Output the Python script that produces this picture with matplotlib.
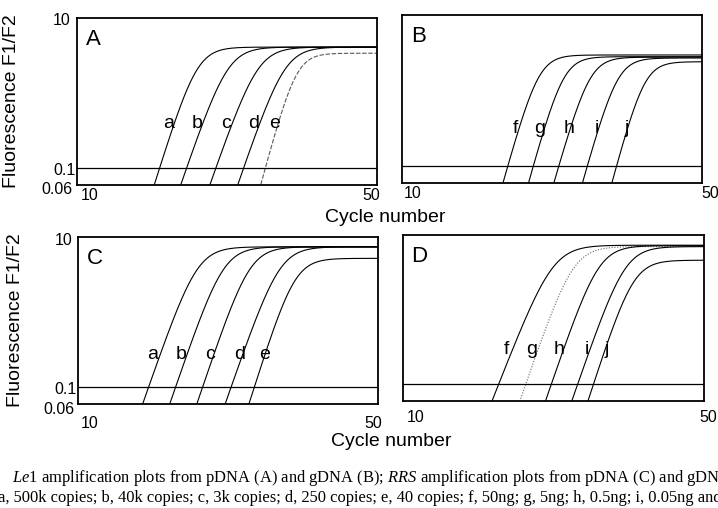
import numpy as np
import matplotlib
matplotlib.use("Agg")
import matplotlib.pyplot as plt
import matplotlib.transforms as mtransforms

plt.rcParams['font.family'] = ['Liberation Sans', 'DejaVu Sans']
plt.rcParams['mathtext.fontset'] = 'custom'
plt.rcParams['mathtext.it'] = 'Liberation Serif:italic'
plt.rcParams['mathtext.rm'] = 'Liberation Serif'

# amplification curves:
# ct = cycle where the curve crosses the 0.1 threshold,
# mid = cycle at half of the plateau, top = plateau value
A_names = ['a', 'b', 'c', 'd', 'e']
A_ct = [21.0, 24.6, 28.5, 32.2, 35.1]
A_mid = [26.0, 30.1, 34.1, 37.7, 39.2]
A_top = [4.1, 4.1, 4.1, 4.1, 3.4]
A_lab_x = [22.2, 26.0, 29.9, 33.5, 36.4]

B_names = ['f', 'g', 'h', 'i', 'j']
B_ct = [24.1, 27.5, 30.9, 34.7, 38.6]
B_mid = [28.2, 31.5, 35.0, 38.7, 42.3]
B_top = [2.96, 2.81, 2.77, 2.70, 2.41]
B_lab_x = [25.1, 28.4, 32.3, 36.0, 39.9]

C_names = ['a', 'b', 'c', 'd', 'e']
C_ct = [19.4, 23.0, 26.6, 30.4, 33.5]
C_mid = [25.9, 29.4, 32.9, 36.9, 38.9]
C_top = [7.4, 7.4, 7.4, 7.4, 5.2]
C_lab_x = [20.0, 23.8, 27.6, 31.6, 34.9]

D_names = ['f', 'g', 'h', 'i', 'j']
D_ct = [22.7, 26.3, 29.7, 33.2, 35.3]
D_mid = [29.9, 32.6, 36.0, 39.5, 40.6]
D_top = [7.3, 7.0, 7.2, 7.0, 4.6]
D_lab_x = [23.8, 27.1, 30.8, 34.4, 37.1]

threshold = 0.1
ymin, ymax = 0.06, 10
xmin, xmax = 10, 50

W, H = 718, 508
fig = plt.figure(figsize=(W / 100, H / 100), dpi=100)


def px_axes(l, t, r, b):
    return fig.add_axes([l / W, 1 - b / H, (r - l) / W, (b - t) / H])


def panel(ax, letter, names, ct, mid, top, lab_x, lab_y, styles, ylabels, x10_dx, x50_dx, xt_dy):
    x = np.linspace(xmin, xmax, 600)
    for n, c, m, t in zip(names, ct, mid, top):
        s = (m - c) / np.log(t / threshold - 1)
        y = t / (1 + np.exp(-(x - m) / s))
        ls, col = styles.get(n, ('-', 'black'))
        ax.plot(x, y, color=col, linestyle=ls, lw=0.8)
    ax.axhline(threshold, color='black', lw=0.9)
    ax.set_yscale('log')
    ax.set_xlim(xmin, xmax)
    ax.set_ylim(ymin, ymax)
    ax.set_xticks([])
    ax.set_yticks([])
    ax.minorticks_off()
    for sp in ax.spines.values():
        sp.set_linewidth(1.3)
    for n, lx in zip(names, lab_x):
        ax.text(lx, lab_y, n, fontsize=14, ha='center', va='center')
    ax.text(0.055, 0.87, letter, transform=ax.transAxes, fontsize=16,
            ha='center', va='center')
    if ylabels:
        ytr = mtransforms.blended_transform_factory(ax.transAxes, ax.transData)
        for val, lab, dx, dy in [(10, '10', -6, -3), (0.1, '0.1', -1, -2), (0.06, '0.06', -4, -5)]:
            tr = mtransforms.offset_copy(ytr, fig=fig, x=dx, y=dy, units='dots')
            ax.text(0, val, lab, transform=tr, fontsize=11.5, ha='right', va='center')
        ax.set_ylabel('Fluorescence F1/F2', fontsize=14)
    xtr = mtransforms.blended_transform_factory(ax.transData, ax.transAxes)
    for val, lab, dx in [(10, '10', x10_dx), (50, '50', x50_dx)]:
        tr = mtransforms.offset_copy(xtr, fig=fig, x=dx, y=-xt_dy, units='dots')
        ax.text(val, 0, lab, transform=tr, fontsize=11.5, ha='center', va='center')


axA = px_axes(77, 18, 377, 185)
axB = px_axes(402, 15, 702, 183)
axC = px_axes(78, 237, 378, 404)
axD = px_axes(403, 235, 704, 401)

panel(axA, 'A', A_names, A_ct, A_mid, A_top, A_lab_x, 0.40,
      {'e': ((0, (4, 1.5)), '0.35')}, True, 13, -6, 11)
panel(axB, 'B', B_names, B_ct, B_mid, B_top, B_lab_x, 0.32, {}, False, 11, 8, 11)
panel(axC, 'C', C_names, C_ct, C_mid, C_top, C_lab_x, 0.27, {}, True, 12, -5, 19)
panel(axD, 'D', D_names, D_ct, D_mid, D_top, D_lab_x, 0.29,
      {'g': ((0, (1, 1.5)), '0.4')}, False, 13, 4, 17)

axA.yaxis.set_label_coords(-0.19, 0.5)
axC.yaxis.set_label_coords(-0.18, 0.5)

fig.text(385 / W, 1 - 218 / H, 'Cycle number', fontsize=14, ha='center', va='center')
fig.text(391 / W, 1 - 441 / H, 'Cycle number', fontsize=14, ha='center', va='center')

# the caption is cut off at both edges in the source image
cap1 = (r'$\mathit{Le1}$ amplification plots from pDNA (A) and gDNA (B); '
        r'$\mathit{RRS}$ amplification plots from pDNA (C) and gDNA')
cap2 = ('a, 500k copies; b, 40k copies; c, 3k copies; d, 250 copies; e, 40 copies; '
        'f, 50ng; g, 5ng; h, 0.5ng; i, 0.05ng and')
fig.text(12 / W, 1 - 478 / H, cap1, fontsize=11.9, family='Liberation Serif',
         ha='left', va='center')
fig.text(-2 / W, 1 - 498 / H, cap2, fontsize=11.9, family='Liberation Serif',
         ha='left', va='center')

fig.savefig('out.png', dpi=100)
